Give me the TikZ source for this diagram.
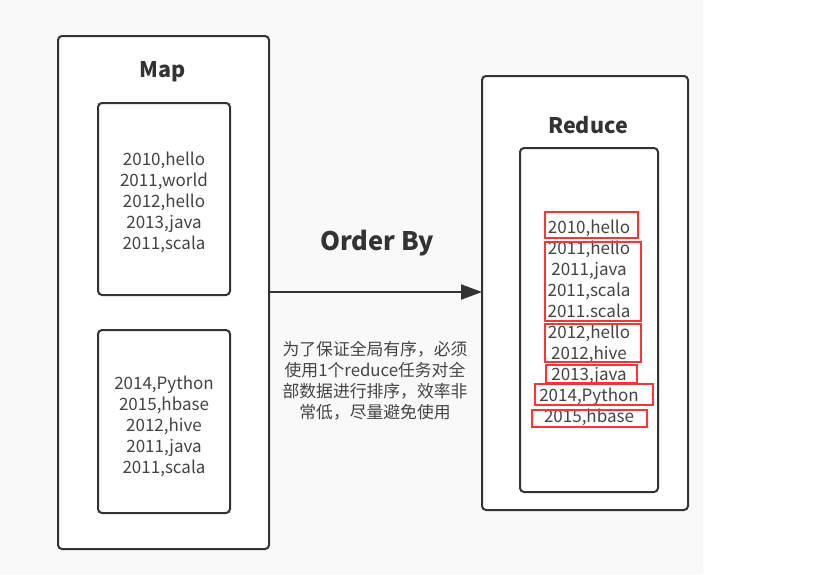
\documentclass[tikz,border=0pt]{standalone}
\usepackage{fontspec}
\setmainfont{Noto Sans CJK SC}
\usetikzlibrary{arrows.meta}
\definecolor{bg}{HTML}{F9F9F9}
\definecolor{ink}{HTML}{333333}
\definecolor{txt}{HTML}{444444}
\definecolor{redmark}{HTML}{FF3333}
\tikzset{
  box/.style={draw=ink, line width=2pt, rounded corners=4pt, fill=white},
  data/.style={text=txt, align=center, font=\fontsize{17}{21}\selectfont, inner sep=0pt},
  ttl/.style={text=ink, font=\fontsize{21.5}{25}\selectfont\bfseries, inner sep=0pt},
  redbox/.style={draw=redmark, line width=2.4pt}
}
\begin{document}
\begin{tikzpicture}[x=1pt,y=-1pt]
\useasboundingbox (0,0) rectangle (820,574);
\fill[bg] (0,0) rectangle (703,574);
% Map
\draw[box] (58,36) rectangle (269,549);
\coordinate (mapR) at (269,292);
\node[ttl] (maptitle) at (163,72) {Map};
\draw[box] (98,103) rectangle (230,295);
\node[data] (m1) at (164,202) {2010,hello\\2011,world\\2012,hello\\2013,java\\2011,scala};
\draw[box] (98,330) rectangle (230,513);
\node[data] (m2) at (164,426) {2014,Python\\2015,hbase\\2012,hive\\2011,java\\2011,scala};
% Reduce
\draw[box] (482,76) rectangle (688,510);
\coordinate (redL) at (482,292);
\node[ttl] (redtitle) at (588,125) {Reduce};
\draw[box] (520,148) rectangle (658,492);
\node[data] (r) at (589,323) {2010,hello\\2011,hello\\2011,java\\2011,scala\\2011.scala\\2012,hello\\2012,hive\\2013,java\\2014,Python\\2015,hbase};
% red marks
\draw[redbox] (545,212) rectangle (638,238);
\draw[redbox] (545,242) rectangle (641,321);
\draw[redbox] (545,324) rectangle (641,362);
\draw[redbox] (546,365) rectangle (637,383);
\draw[redbox] (535,384) rectangle (653,405);
\draw[redbox] (532,410) rectangle (647,427);
% arrow
\draw[ink, line width=2pt, -{Triangle[length=21pt,width=15pt]}] (mapR) -- (redL);
\node[text=ink, font=\fontsize{25.5}{30}\selectfont\bfseries, inner sep=0pt] (ob) at (377,243) {Order By};
\node[text=txt, align=center, font=\fontsize{16.8}{21}\selectfont, inner sep=0pt] (note) at (375,381) {为了保证全局有序，必须\\使用1个reduce任务对全\\部数据进行排序，效率非\\常低，尽量避免使用};
\end{tikzpicture}
\end{document}
